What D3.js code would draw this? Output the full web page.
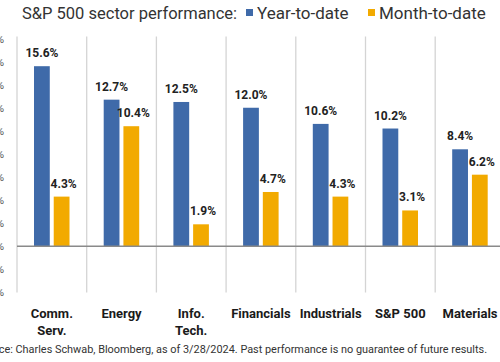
<!DOCTYPE html>
<html>
<head>
<meta charset="utf-8">
<script src="https://cdn.jsdelivr.net/npm/d3@7"></script>
<style>
  body { margin: 0; background: #fff; }
  svg { display: block; font-family: Roboto, "Noto Sans", sans-serif; }
</style>
</head>
<body>
<div id="chart"></div>
<script>
// sector names (two lines where the reference wraps)
let categories = ["Comm.\nServ.", "Energy", "Info.\nTech.", "Financials", "Industrials", "S&P 500", "Materials"];
let series = ["Year-to-date", "Month-to-date"];
let ytd = [15.6, 12.7, 12.5, 12.0, 10.6, 10.2, 8.4];
let mtd = [4.3, 10.4, 1.9, 4.7, 4.3, 3.1, 6.2];
let yTicks = [-4, -2, 0, 2, 4, 6, 8, 10, 12, 14, 16, 18];
let colors = ["#3f6aa9", "#f2aa00"];

var width = 500, height = 362;

var svg = d3.select("#chart")
    .append("svg")
    .attr("width", width)
    .attr("height", height);

var x = d3.scaleBand()
    .domain(categories)
    .range([17, 17 + 7 * 69.7]);

// position of the two bars inside one sector band
var xSub = d3.scaleBand()
    .domain(series)
    .range([17, 52.5])
    .paddingInner(0.2);

var y = d3.scaleLinear()
    .domain([-4, 18])
    .range([292.4, 38.5]);

// vertical separators between sectors
var seps = categories.map(function (c) { return x(c); });
seps.push(x(categories[6]) + x.bandwidth());
svg.append("g").selectAll("line")
    .data(seps)
    .enter().append("line")
    .attr("x1", function (d) { return d; })
    .attr("x2", function (d) { return d; })
    .attr("y1", y(18) - 2)
    .attr("y2", y(-4))
    .attr("stroke", "#d4d4d4")
    .attr("stroke-width", 1.3);

// left axis labels, mostly clipped off the left edge like the source
svg.append("g").selectAll("text")
    .data(yTicks)
    .enter().append("text")
    .attr("x", 4)
    .attr("y", function (d) { return y(d) + 4; })
    .attr("text-anchor", "end")
    .style("font-size", "11px")
    .style("fill", "#555")
    .text(function (d) { return d + "%"; });

var rows = categories.map(function (c, i) { return { cat: c, vals: [ytd[i], mtd[i]] }; });

var groups = svg.append("g").selectAll("g")
    .data(rows)
    .enter().append("g")
    .attr("transform", function (d) { return "translate(" + x(d.cat) + ",0)"; });

groups.selectAll("rect")
    .data(function (d) { return d.vals.map(function (v, j) { return { s: series[j], v: v, j: j }; }); })
    .enter().append("rect")
    .attr("x", function (d) { return xSub(d.s); })
    .attr("y", function (d) { return y(d.v); })
    .attr("width", xSub.bandwidth())
    .attr("height", function (d) { return y(0) - y(d.v); })
    .attr("fill", function (d) { return colors[d.j]; });

groups.selectAll("text")
    .data(function (d) { return d.vals.map(function (v, j) { return { s: series[j], v: v, j: j }; }); })
    .enter().append("text")
    .attr("x", function (d) { return xSub(d.s) + xSub.bandwidth() / 2 + (d.j == 1 ? 2 : 0); })
    .attr("y", function (d) { return y(d.v) - 9; })
    .attr("text-anchor", "middle")
    .style("font-size", "12px")
    .style("font-weight", "bold")
    .style("fill", "#222")
    .text(function (d) { return d.v.toFixed(1) + "%"; });

// zero line
svg.append("line")
    .attr("x1", 17)
    .attr("x2", width)
    .attr("y1", y(0))
    .attr("y2", y(0))
    .attr("stroke", "#8a8a8a")
    .attr("stroke-width", 1.5);

// category labels
var catLabels = svg.append("g").selectAll("text")
    .data(categories)
    .enter().append("text")
    .attr("x", function (d) { return x(d) + x.bandwidth() / 2; })
    .attr("y", 318)
    .attr("text-anchor", "middle")
    .style("font-size", "13px")
    .style("font-weight", "bold")
    .style("fill", "#1a1a1a");

catLabels.selectAll("tspan")
    .data(function (d) { return d.split("\n"); })
    .enter().append("tspan")
    .attr("x", function () { var c = d3.select(this.parentNode).datum(); return x(c) + x.bandwidth() / 2; })
    .attr("dy", function (d, i) { return i == 0 ? 0 : 16.5; })
    .text(function (d) { return d; });

// title and legend
svg.append("text")
    .attr("x", 22)
    .attr("y", 19)
    .style("font-size", "16.5px")
    .style("fill", "#333")
    .text("S&P 500 sector performance:");

var legendX = [246, 368];
series.forEach(function (s, i) {
    svg.append("rect")
        .attr("x", legendX[i])
        .attr("y", 9)
        .attr("width", 7)
        .attr("height", 7)
        .attr("fill", colors[i]);
    svg.append("text")
        .attr("x", legendX[i] + 11)
        .attr("y", 19)
        .style("font-size", "17px")
        .style("fill", "#333")
        .text(s);
});

// source note, its start is cut off by the left edge as in the source image
svg.append("text")
    .attr("x", 487)
    .attr("y", 353)
    .attr("text-anchor", "end")
    .style("font-size", "10.9px")
    .style("fill", "#333")
    .text("Source: Charles Schwab, Bloomberg, as of 3/28/2024.  Past performance is no guarantee of future results.");
</script>
</body>
</html>
